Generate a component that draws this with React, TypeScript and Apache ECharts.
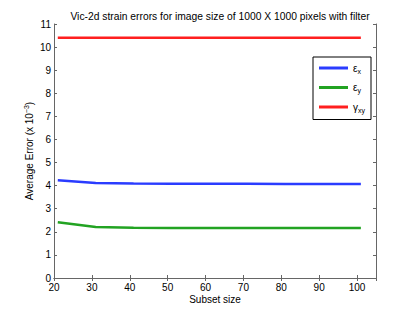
import React, { useEffect, useRef } from "react";
import * as echarts from "echarts";

const subsetSizes = [21, 31, 41, 51, 61, 71, 81, 91, 101];
const epsX = [4.23, 4.11, 4.09, 4.08, 4.08, 4.08, 4.07, 4.07, 4.07];
const epsY = [2.41, 2.21, 2.18, 2.17, 2.17, 2.17, 2.16, 2.16, 2.16];
const gammaXY = [10.4, 10.4, 10.4, 10.4, 10.4, 10.4, 10.4, 10.4, 10.4];

const seriesNames = ["eps_x", "eps_y", "gamma_xy"];
const seriesData = [epsX, epsY, gammaXY];
const seriesColors = ["#2a3cff", "#22a322", "#ff1f1f"];
const legendLabels: Record<string, string> = {
  eps_x: "{g|ε}{s|x}",
  eps_y: "{g|ε}{s|y}",
  gamma_xy: "{g|γ}{s|xy}",
};

const FONT = "'Liberation Sans', Arial, Helvetica, sans-serif";
const AXIS_COLOR = "#666666";

export default function App() {
  const ref = useRef<HTMLDivElement>(null);
  useEffect(() => {
    if (!ref.current) return;
    const chart = echarts.init(ref.current, null, { renderer: "svg" });
    const grid = { left: 54, right: 39, top: 24, bottom: 35 };
    const xLabel = {
      fontSize: 10,
      color: "#000",
      fontFamily: FONT,
      margin: 4,
      formatter: (v: number) => (v % 10 === 0 ? String(v) : ""),
    };
    chart.setOption({
      animation: false,
      backgroundColor: "#ffffff",
      textStyle: { fontFamily: FONT },
      title: {
        text: "Vic-2d strain errors for image size of 1000 X 1000 pixels with filter",
        left: 215,
        textAlign: "center",
        top: 6,
        textStyle: { fontSize: 10.3, fontWeight: "normal", color: "#000", fontFamily: FONT },
      },
      grid,
      legend: {
        orient: "vertical",
        left: 313,
        top: 57,
        width: 58,
        padding: [6, 6, 6, 6],
        itemGap: 8,
        itemWidth: 29,
        itemHeight: 3,
        icon: "rect",
        borderColor: "#000",
        borderWidth: 1,
        backgroundColor: "#fff",
        borderRadius: 0,
        data: seriesNames,
        formatter: (name: string) => legendLabels[name],
        textStyle: {
          color: "#000",
          rich: {
            g: { fontSize: 10, fontFamily: FONT, color: "#000" },
            s: { fontSize: 7, fontFamily: FONT, color: "#000", verticalAlign: "bottom", padding: [6, 0, 0, 0] },
          },
        },
      },
      xAxis: [
        {
          type: "value",
          min: 20,
          max: 105,
          interval: 10,
          position: "bottom",
          name: "Subset size",
          nameLocation: "middle",
          nameGap: 16,
          nameMoveOverlap: false,
          nameTextStyle: { fontSize: 10, color: "#000", fontFamily: FONT },
          axisLine: { show: true, lineStyle: { color: AXIS_COLOR, width: 1 } },
          axisTick: { show: true, inside: true, length: 3, lineStyle: { color: AXIS_COLOR } },
          axisLabel: xLabel,
          splitLine: { show: false },
        },
        {
          type: "value",
          min: 20,
          max: 105,
          interval: 10,
          position: "top",
          axisLine: { show: true, lineStyle: { color: AXIS_COLOR, width: 1 } },
          axisTick: { show: true, inside: true, length: 3, lineStyle: { color: AXIS_COLOR } },
          axisLabel: { show: false },
          splitLine: { show: false },
        },
      ],
      yAxis: [
        {
          type: "value",
          min: 0,
          max: 11,
          interval: 1,
          position: "left",
          name: "{a|Average Error (x 10}{s|−3}{a|)}",
          nameLocation: "middle",
          nameGap: 18,
          nameMoveOverlap: false,
          nameRotate: 90,
          nameTextStyle: {
            color: "#000",
            rich: {
              a: { fontSize: 10, fontFamily: FONT, color: "#000" },
              s: { fontSize: 7, fontFamily: FONT, color: "#000", verticalAlign: "top", padding: [0, 0, 6, 0] },
            },
          },
          axisLine: { show: true, lineStyle: { color: AXIS_COLOR, width: 1 } },
          axisTick: { show: true, inside: true, length: 3, lineStyle: { color: AXIS_COLOR } },
          axisLabel: { fontSize: 10, color: "#000", fontFamily: FONT, margin: 3 },
          splitLine: { show: false },
        },
        {
          type: "value",
          min: 0,
          max: 11,
          interval: 1,
          position: "right",
          axisLine: { show: true, lineStyle: { color: AXIS_COLOR, width: 1 } },
          axisTick: { show: true, inside: true, length: 3, lineStyle: { color: AXIS_COLOR } },
          axisLabel: { show: false },
          splitLine: { show: false },
        },
      ],
      series: seriesNames.map((name, i) => ({
        name,
        type: "line",
        xAxisIndex: 0,
        yAxisIndex: 0,
        showSymbol: false,
        symbol: "none",
        color: seriesColors[i],
        lineStyle: { color: seriesColors[i], width: 2.5 },
        data: subsetSizes.map((x, j) => [x, seriesData[i][j]]),
      })),
    });
    return () => chart.dispose();
  }, []);
  return (
    <div
      ref={ref}
      style={{ position: "fixed", left: 0, top: 0, width: 415, height: 313, background: "#fff" }}
    />
  );
}
